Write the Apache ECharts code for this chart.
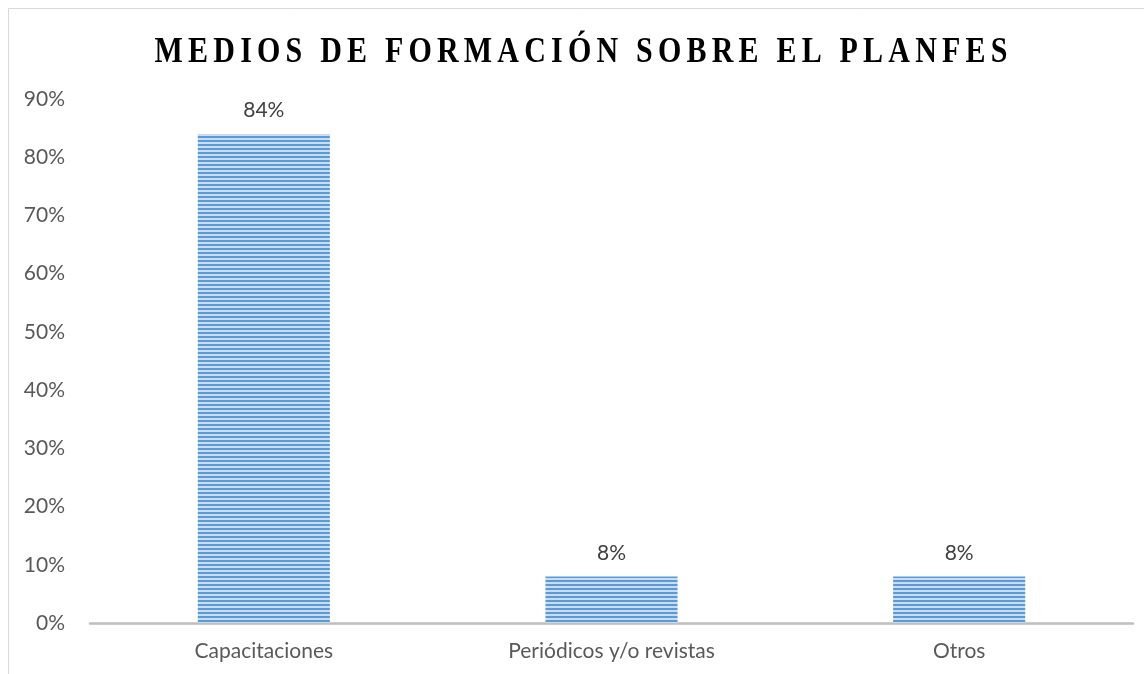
<!DOCTYPE html>
<html>
<head>
<meta charset="utf-8">
<script src="https://cdn.jsdelivr.net/npm/echarts@6/dist/echarts.min.js"></script>
<style>
  html, body { margin: 0; padding: 0; background: #fff; }
  #chart { width: 1144px; height: 674px; }
</style>
</head>
<body>
<div id="chart"></div>
<script>
const titleText = 'MEDIOS DE FORMACIÓN SOBRE EL PLANFES'
const categories = ['Capacitaciones', 'Periódicos y/o revistas', 'Otros']
const values = [84, 8, 8]
const yMin = 0
const yMax = 90
const yStep = 10

// striped fill like the original bars
function stripePattern() {
  const c = document.createElement('canvas')
  c.width = 4
  c.height = 4
  const ctx = c.getContext('2d')
  ctx.fillStyle = '#cadcf0'
  ctx.fillRect(0, 0, 4, 4)
  ctx.fillStyle = '#5b9bd5'
  ctx.fillRect(0, 0, 4, 2)
  return c
}

// each letter as its own rich token so letters can be spaced apart
const spacedTitle = titleText.split('').map(ch => '{c|' + ch + '}').join('')

const labelFont = { color: '#595959', fontSize: 21, fontFamily: 'Lato' }

const chart = echarts.init(document.getElementById('chart'))
chart.setOption({
  animation: false,
  backgroundColor: '#fff',
  graphic: [
    {
      type: 'rect',
      shape: { x: 8.5, y: 8.5, width: 1200, height: 700 },
      style: { fill: 'none', stroke: '#d9d9d9', lineWidth: 1 },
      silent: true
    },
    {
      type: 'text',
      x: 581,
      y: 53,
      scaleY: 1.18,
      style: {
        text: spacedTitle,
        align: 'center',
        verticalAlign: 'middle',
        font: 'bold 30px "Liberation Serif"',
        fill: '#000',
        rich: {
          c: { font: 'bold 30px "Liberation Serif"', fill: '#000', padding: [0, 2.6] }
        }
      }
    }
  ],
  grid: { left: 90, right: 11, top: 99, bottom: 51, containLabel: false },
  xAxis: {
    type: 'category',
    data: categories,
    axisLine: { lineStyle: { color: '#bfbfbf', width: 2.5 } },
    axisTick: { show: false },
    axisLabel: Object.assign({ margin: 18 }, labelFont)
  },
  yAxis: {
    type: 'value',
    min: yMin,
    max: yMax,
    interval: yStep,
    axisLine: { show: false },
    axisTick: { show: false },
    splitLine: { show: false },
    axisLabel: Object.assign({ margin: 25, formatter: '{value}%' }, labelFont)
  },
  series: [{
    type: 'bar',
    data: values,
    barWidth: '38%',
    itemStyle: { color: { image: stripePattern(), repeat: 'repeat' } },
    label: {
      show: true,
      position: 'top',
      distance: 13,
      formatter: '{c}%',
      color: '#404040',
      fontSize: 21,
      fontFamily: 'Lato'
    }
  }]
})
</script>
</body>
</html>
